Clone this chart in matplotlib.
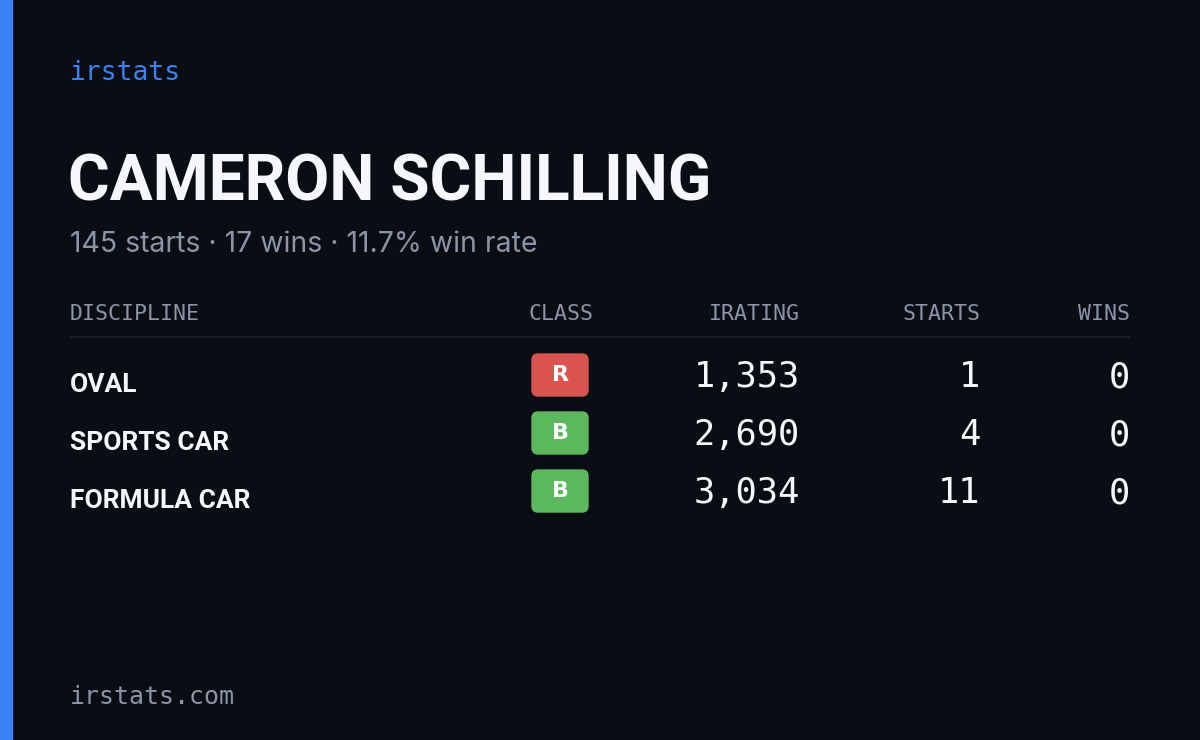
import matplotlib
matplotlib.use("Agg")
import matplotlib.pyplot as plt
from matplotlib.patches import FancyBboxPatch, Rectangle

name = "CAMERON SCHILLING"
summary = "145 starts · 17 wins · 11.7% win rate"
headers = ["DISCIPLINE", "CLASS", "IRATING", "STARTS", "WINS"]
disciplines = ["OVAL", "SPORTS CAR", "FORMULA CAR"]
classes = ["R", "B", "B"]
iratings = [1353, 2690, 3034]
starts = [1, 4, 11]
wins = [0, 0, 0]
class_colors = {"R": "#d9534f", "B": "#5cb85c"}

W, H = 1200, 740
fig = plt.figure(figsize=(12, 7.4), dpi=100)
fig.patch.set_facecolor("#0a0d14")
ax = fig.add_axes([0, 0, 1, 1])
ax.set_xlim(0, W); ax.set_ylim(H, 0); ax.axis("off")
ax.add_patch(Rectangle((0, 0), 12, H, color="#3b82f6"))

cond = ["Roboto", "DejaVu Sans"]
mono = ["DejaVu Sans Mono"]
ax.text(70, 73, "irstats", color="#3b82f6", fontsize=19, family=mono, va="center")
ax.text(68, 183, name, color="#f5f7fa", fontsize=46, fontweight="bold", family=cond, va="center")
ax.text(70, 245, summary, color="#8b95a7", fontsize=20.5, family=["Inter", "DejaVu Sans"], va="center")

hx = [70, 593, 800, 980, 1130]
ha = ["left", "right", "right", "right", "right"]
for x, h, a in zip(hx, headers, ha):
    ax.text(x, 314, h, color="#8b95a7", fontsize=15.5, family=mono, ha=a, va="center")
ax.plot([70, 1130], [337, 337], color="#1e2430", lw=1.2)

for i, (d, c, r, s, w) in enumerate(zip(disciplines, classes, iratings, starts, wins)):
    y = 377 + 58 * i
    ax.text(70, y + 8, d, color="#f5f7fa", fontsize=19, fontweight="bold", family=cond, va="center")
    ax.add_patch(FancyBboxPatch((532, y - 23), 56, 42, boxstyle="round,pad=0,rounding_size=6",
                                color=class_colors[c]))
    ax.text(560, y - 2, c, color="white", fontsize=16, fontweight="bold", family=["DejaVu Sans"],
            ha="center", va="center")
    for x, v in [(800, f"{r:,}"), (980, str(s)), (1130, str(w))]:
        ax.text(x, y, v, color="#f5f7fa", fontsize=25.5, family=mono, ha="right", va="center")

ax.text(70, 697, "irstats.com", color="#8b95a7", fontsize=18, family=mono, va="center")
fig.savefig("out.png", dpi=100, facecolor=fig.get_facecolor())
